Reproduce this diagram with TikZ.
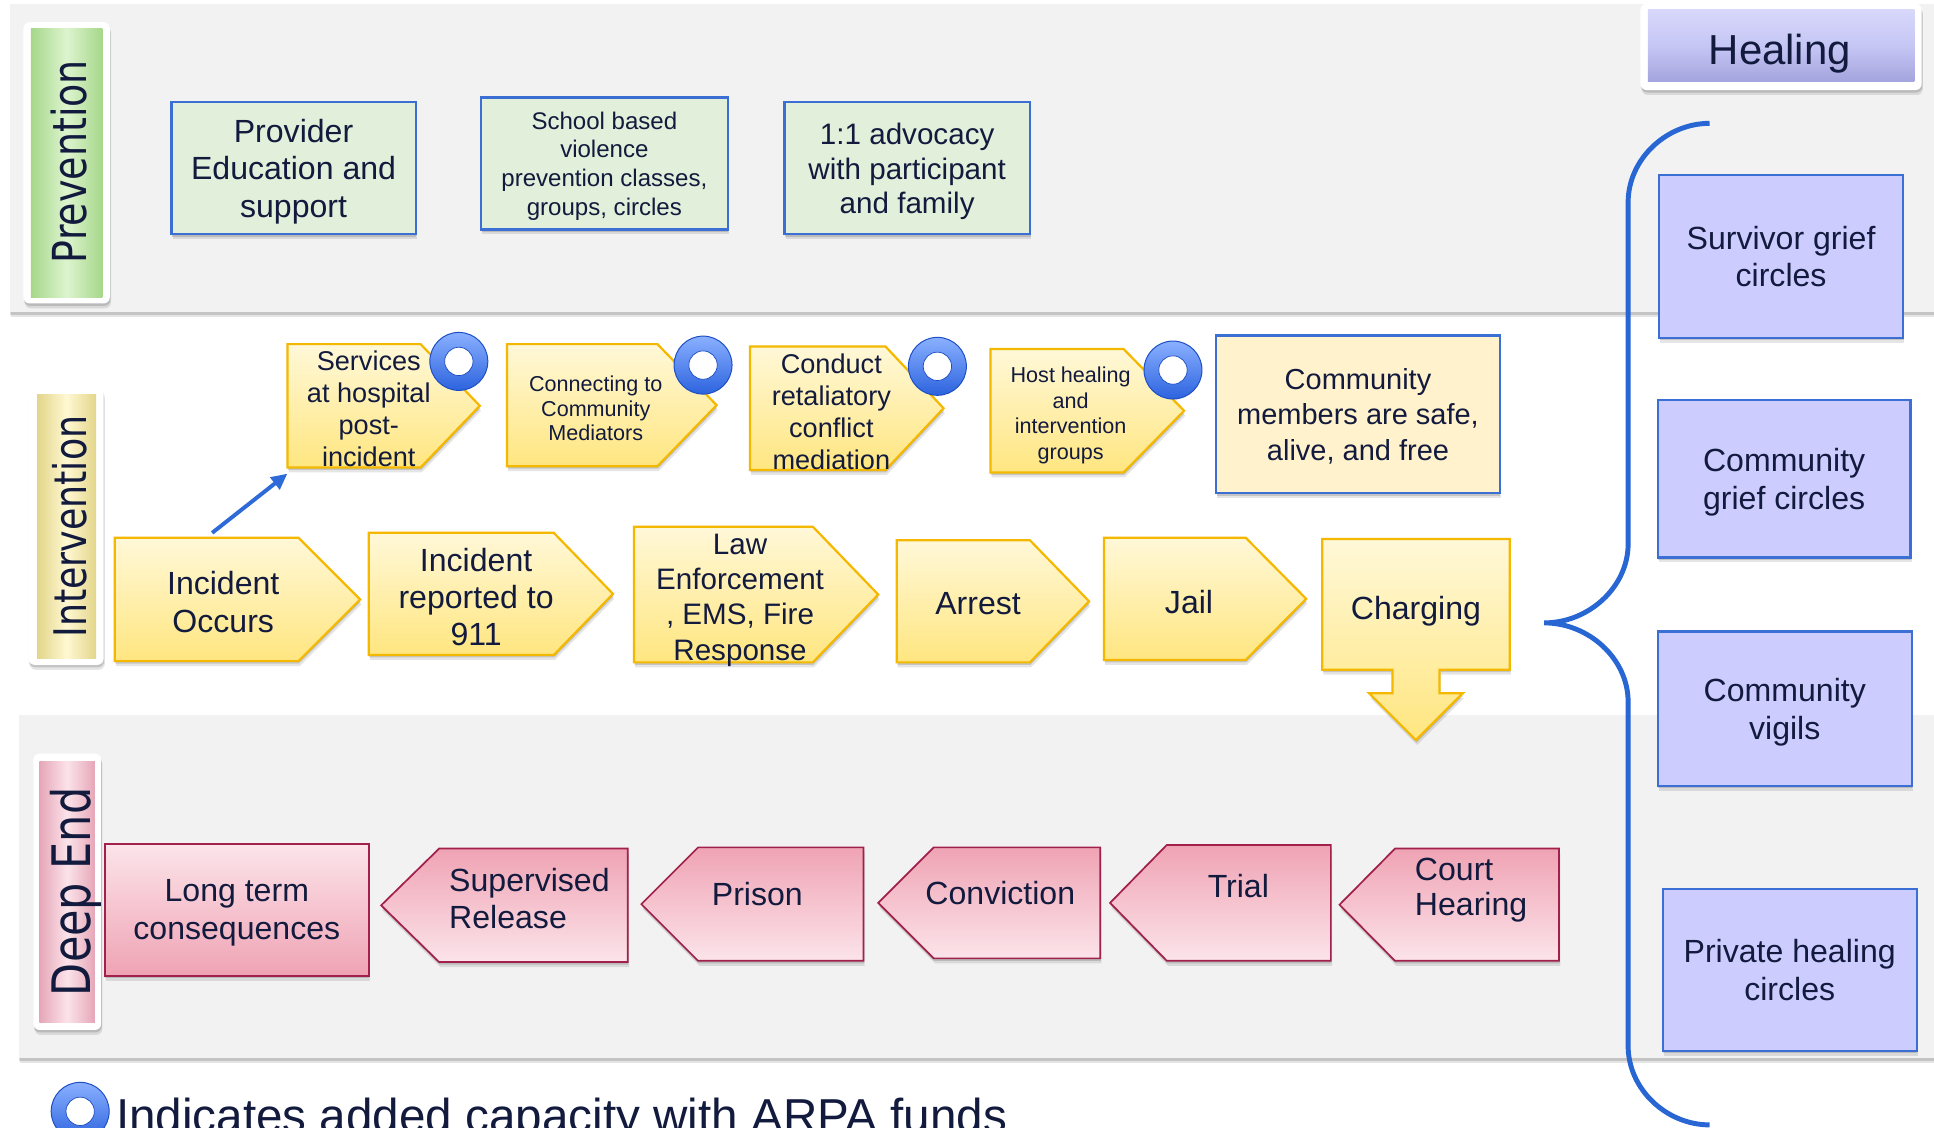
\documentclass[tikz,border=0pt]{standalone}
\usepackage{fontspec}
\setmainfont{Liberation Sans}
\newfontfamily\labfont[FakeStretch=0.81]{DejaVu Sans}
\usetikzlibrary{shadows,arrows.meta}
\definecolor{navy}{HTML}{121A3D}
\definecolor{bandgray}{HTML}{F2F2F2}
\definecolor{boxblue}{HTML}{3B6FD4}
\definecolor{greenfill}{HTML}{E2EFDA}
\definecolor{creamfill}{HTML}{FFF2CC}
\definecolor{ytop}{HTML}{FFF8D8}
\definecolor{ybot}{HTML}{FFE680}
\definecolor{yborder}{HTML}{F4B800}
\definecolor{plight}{HTML}{FCE4EA}
\definecolor{pdark}{HTML}{EFA3B4}
\definecolor{pborder}{HTML}{A1204C}
\definecolor{lav}{HTML}{CCCCFF}
\definecolor{bracecol}{HTML}{2866D4}
\definecolor{ringlight}{HTML}{8AB0FF}
\definecolor{ringdark}{HTML}{2C63DE}
\definecolor{ringedge}{HTML}{1D4FC4}
\definecolor{gedge}{HTML}{A6D78A}
\definecolor{gmid}{HTML}{DDF4CF}
\definecolor{yedge}{HTML}{E3D58A}
\definecolor{ymid}{HTML}{FFF8D2}
\definecolor{pedge}{HTML}{E6A6B8}
\definecolor{pmid}{HTML}{FBE3EA}
\definecolor{htop}{HTML}{D8D8FB}
\definecolor{hmid}{HTML}{C6C6F5}
\definecolor{hbot}{HTML}{A4A4DE}
\definecolor{arrowblue}{HTML}{2F6BD8}

\newcommand{\rshapepath}[3]{\path[#3] (#1.north west) -- ([xshift=-#2pt]#1.north east) -- (#1.east) -- ([xshift=-#2pt]#1.south east) -- (#1.south west) -- cycle;}
\newcommand{\lshapepath}[3]{\path[#3] (#1.north east) -- ([xshift=#2pt]#1.north west) -- (#1.west) -- ([xshift=#2pt]#1.south west) -- (#1.south east) -- cycle;}

\tikzset{
  sbox/.style={inner sep=0pt, outer sep=0pt},
  sh/.style={general shadow={shadow xshift=1pt,shadow yshift=-4pt,fill=black,opacity=.10},
             general shadow={shadow xshift=.5pt,shadow yshift=-2pt,fill=black,opacity=.14}},
  txt/.style={text=navy, align=center, inner sep=0pt, text depth=0pt},
  labtxt/.style={text=navy, inner sep=0pt, text depth=0pt, rotate=90},
  band/.style={fill=bandgray, sh},
  labouter/.style={sbox, fill=white, rounded corners=5pt, sh},
  ystyle/.style={sh, top color=ytop, bottom color=ybot, draw=yborder, line width=1.8pt},
  pdown/.style={sh, top color=plight, bottom color=pdark, draw=pborder, line width=1.4pt},
  pup/.style={sh, top color=pdark, bottom color=plight, draw=pborder, line width=1.4pt},
  greenbox/.style={sbox, txt, sh, fill=greenfill, draw=boxblue, line width=1.8pt},
  lavbox/.style={sbox, txt, sh, fill=lav, draw=boxblue, line width=1.8pt, font=\fontsize{26}{30.5}\selectfont},
  ring/.style={circle, inner sep=0pt, minimum size=47pt, top color=ringlight, bottom color=ringdark,
    draw=ringedge, line width=.8pt,
    path picture={\filldraw[fill=white, draw=ringedge, line width=.6pt] (path picture bounding box.center) circle (11.5pt);}},
  conn/.style={draw=arrowblue, line width=3.2pt, -{Triangle[length=13pt,width=12pt]}},
  bracestyle/.style={draw=bracecol, line width=4pt}
}

\begin{document}
\begin{tikzpicture}[x=1pt,y=-1pt]
\useasboundingbox (0,0) rectangle (1568,914);
\fill[white] (0,0) rectangle (1568,914);

% bands
\path[band] (8,3) rectangle (1568,253);
\path[band] (15,580) rectangle (1568,858);

% section labels
\node[labouter, minimum width=70, minimum height=228] (prevO) at (54,132) {};
\node[sbox, minimum width=58, minimum height=218, left color=gedge, right color=gedge, middle color=gmid] (prevI) at (54,132) {};
\node[labtxt, font=\labfont\fontsize{38}{40}\selectfont] (prevT) at (55.5,131) {Prevention};

\node[labouter, minimum width=61, minimum height=225] (intO) at (53.5,426.5) {};
\node[sbox, minimum width=48, minimum height=214, left color=yedge, right color=yedge, middle color=ymid] (intI) at (54,427) {};
\node[labtxt, font=\labfont\fontsize{36.4}{40}\selectfont] (intT) at (56,427) {Intervention};

\node[labouter, minimum width=55, minimum height=224] (deepO) at (54.5,723) {};
\node[sbox, minimum width=45, minimum height=212, left color=pedge, right color=pedge, middle color=pmid] (deepI) at (54.5,723) {};
\node[labtxt, font=\labfont\fontsize{43}{45}\selectfont] (deepT) at (57,723) {Deep End};

\node[labouter, minimum width=228, minimum height=70] (healO) at (1444,38) {};
\node[sbox, minimum width=216, minimum height=58, top color=htop, bottom color=hbot, middle color=hmid] (healI) at (1444,37) {};
\node[txt, font=\fontsize{34}{38}\selectfont] (healT) at (1443,40) {Healing};

% prevention boxes
\node[greenbox, minimum width=198, minimum height=107, font=\fontsize{26}{30.5}\selectfont] (prov) at (238,136.5) {Provider\\Education and\\support};
\node[greenbox, minimum width=200, minimum height=107, font=\fontsize{19.5}{23.3}\selectfont] (school) at (490,132.5) {School based\\violence\\prevention classes,\\groups, circles};
\node[greenbox, minimum width=199, minimum height=107, font=\fontsize{24}{28}\selectfont] (adv) at (735.5,136.5) {1:1 advocacy\\with participant\\and family};

% brace
\draw[bracestyle] (1386,100) .. controls (1351,100) and (1320,129) .. (1320,164) -- (1320,441)
  .. controls (1320,476) and (1288,505) .. (1252,505)
  .. controls (1288,505) and (1320,534) .. (1320,569) -- (1320,848)
  .. controls (1320,883) and (1351,912) .. (1386,912);

% intervention top row
\node[sbox, minimum width=156, minimum height=100] (hosp) at (311,329) {};
\rshapepath{hosp}{48}{ystyle}
\node[txt, font=\fontsize{22}{26}\selectfont] (hospT) at (299,331) {Services\\at hospital\\post-\\incident};
\node[ring] (ring1) at (372,293) {};

\node[sbox, minimum width=170, minimum height=99] (medi) at (496,328.5) {};
\rshapepath{medi}{48}{ystyle}
\node[txt, font=\fontsize{17.5}{20}\selectfont] (mediT) at (483,331) {Connecting to\\Community\\Mediators};
\node[ring] (ring2) at (570,296) {};

\node[sbox, minimum width=157, minimum height=100] (cond) at (686.5,331) {};
\rshapepath{cond}{47}{ystyle}
\node[txt, font=\fontsize{22}{26}\selectfont] (condT) at (674,334) {Conduct\\retaliatory\\conflict\\mediation};
\node[ring] (ring3) at (760,297) {};

\node[sbox, minimum width=157, minimum height=100] (host) at (881.5,333) {};
\rshapepath{host}{49}{ystyle}
\node[txt, font=\fontsize{17.5}{21}\selectfont] (hostT) at (868,335) {Host healing\\and\\intervention\\groups};
\node[ring] (ring4) at (951,300) {};

\node[sbox, txt, sh, fill=creamfill, draw=boxblue, line width=1.8pt, minimum width=230, minimum height=128,
      font=\fontsize{23.5}{28.5}\selectfont] (safe) at (1101,336) {Community\\members are safe,\\alive, and free};

% intervention main row
\node[sbox, minimum width=199, minimum height=100] (occ) at (192.5,486) {};
\rshapepath{occ}{50}{ystyle}
\node[txt, font=\fontsize{26}{31}\selectfont] (occT) at (181,488) {Incident\\Occurs};

\node[sbox, minimum width=198, minimum height=99] (rep) at (398,481.5) {};
\rshapepath{rep}{48}{ystyle}
\node[txt, font=\fontsize{26}{30}\selectfont] (repT) at (386,484) {Incident\\reported to\\911};

\node[sbox, minimum width=198, minimum height=110] (law) at (613,482) {};
\rshapepath{law}{53}{ystyle}
\node[txt, font=\fontsize{24}{28.7}\selectfont] (lawT) at (600,484) {Law\\Enforcement\\, EMS, Fire\\Response};

\node[sbox, minimum width=156, minimum height=99] (arr) at (805,487.5) {};
\rshapepath{arr}{48}{ystyle}
\node[txt, font=\fontsize{26}{30}\selectfont] (arrT) at (793,489) {Arrest};

\node[sbox, minimum width=164, minimum height=99] (jail) at (977,485.5) {};
\rshapepath{jail}{49}{ystyle}
\node[txt, font=\fontsize{26}{30}\selectfont] (jailT) at (964,488) {Jail};

\node[sbox, minimum width=152, minimum height=106] (chg) at (1148,490) {};
\path[ystyle] (chg.north west) -- (chg.north east) -- (chg.south east) -- ++(-57,0) -- ++(0,19) -- ++(19,0)
  -- ++(-38,38) -- ++(-38,-38) -- ++(19,0) -- ++(0,-19) -- (chg.south west) -- cycle;
\node[txt, font=\fontsize{26}{30}\selectfont] (chgT) at (1148,493) {Charging};

\draw[conn] ([xshift=79pt,yshift=4pt]occ.north west) -- ([yshift=-5pt]hosp.south west);

% deep end row
\node[sbox, txt, pdown, minimum width=214, minimum height=107, font=\fontsize{26}{31}\selectfont] (long) at (192,737.5) {Long term\\consequences};

\node[sbox, minimum width=200, minimum height=92] (sup) at (409,734) {};
\lshapepath{sup}{47}{pup}
\node[txt, align=left, anchor=west, font=\fontsize{26}{30}\selectfont] (supT) at (364,728) {Supervised\\Release};

\node[sbox, minimum width=180, minimum height=92] (pris) at (610,733) {};
\lshapepath{pris}{46}{pup}
\node[txt, font=\fontsize{26}{30}\selectfont] (prisT) at (614,725) {Prison};

\node[sbox, minimum width=180, minimum height=90] (conv) at (802,732) {};
\lshapepath{conv}{45}{pup}
\node[txt, font=\fontsize{26}{30}\selectfont] (convT) at (811,724) {Conviction};

\node[sbox, minimum width=179, minimum height=94] (trial) at (989.5,732) {};
\lshapepath{trial}{46}{pup}
\node[txt, font=\fontsize{26}{30}\selectfont] (trialT) at (1004,718) {Trial};

\node[sbox, minimum width=178, minimum height=91] (court) at (1175,733.5) {};
\lshapepath{court}{45}{pup}
\node[txt, align=left, anchor=west, font=\fontsize{26}{29}\selectfont] (courtT) at (1147,719) {Court\\Hearing};

% healing boxes
\node[lavbox, minimum width=198, minimum height=132] (surv) at (1444,208) {Survivor grief\\circles};
\node[lavbox, minimum width=205, minimum height=128] (cgc) at (1446.5,388) {Community\\grief circles};
\node[lavbox, minimum width=206, minimum height=125] (vig) at (1447,574.5) {Community\\vigils};
\node[lavbox, minimum width=206, minimum height=131] (priv) at (1451,786.5) {Private healing\\circles};

% legend
\node[ring] (legR) at (65,901) {};
\node[txt, anchor=base west, text depth=, font=\fontsize{38.6}{44}\selectfont] (legT) at (94,918) {Indicates added capacity with ARPA funds};
\end{tikzpicture}
\end{document}
